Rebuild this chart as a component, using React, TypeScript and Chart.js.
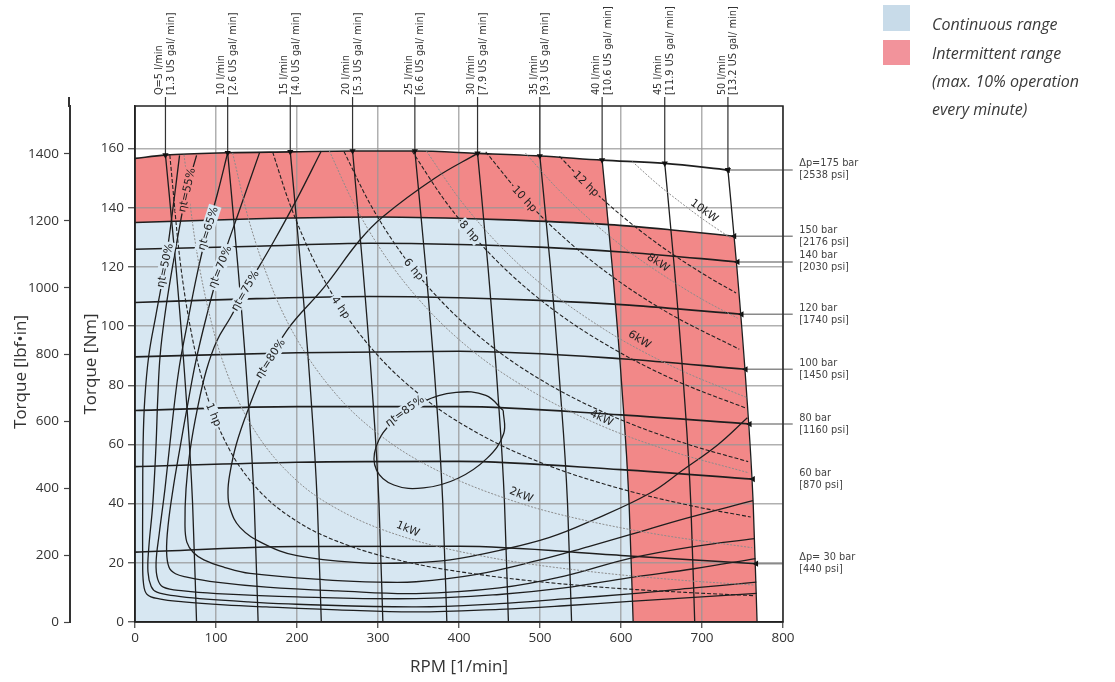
import React, { useEffect, useRef } from 'react';
import { Chart, registerables } from 'chart.js';

Chart.register(...registerables);

type P = [number, number];

// ---------- axes ----------
const RPM_TICKS = [0, 100, 200, 300, 400, 500, 600, 700, 800];
const NM_TICKS = [0, 20, 40, 60, 80, 100, 120, 140, 160];
const LBF_TICKS = [0, 200, 400, 600, 800, 1000, 1200, 1400];
const RPM_MAX = 800;
const NM_MAX = 174.4;
const LBF_PER_NM = 8.8507;

// ---------- flow lines (RPM, Nm) ----------
const Q05: P[] = [[37.6, 157.8], [50.6, 120], [62.2, 80], [71.1, 40], [76, 0]];
const Q10: P[] = [[114.4, 158.6], [127.1, 120], [138.5, 80], [147.2, 40], [152, 0]];
const Q15: P[] = [[191.7, 158.9], [204.6, 120], [216.2, 80], [225.1, 40], [230, 0]];
const Q20: P[] = [[268.6, 159.2], [281.2, 120], [292.5, 80], [301.2, 40], [306, 0]];
const Q25: P[] = [[345.5, 159.2], [358.9, 120], [370.8, 80], [380, 40], [385, 0]];
const Q30: P[] = [[422.9, 158.4], [435.8, 120], [447.3, 80], [456.2, 40], [461, 0]];
const Q35: P[] = [[499.8, 157.5], [512.9, 120], [524.6, 80], [534, 40], [539, 0]];
const Q40: P[] = [[576.7, 156.1], [589.2, 120], [600.9, 80], [610, 40], [615, 0]];
const Q45: P[] = [[654, 155], [665.8, 120], [677.3, 80], [686.2, 40], [691, 0]];
const Q50: P[] = [[732, 152.8], [743, 120], [754.4, 80], [763.2, 40], [768, 0]];
const Q_LINES = [Q05, Q10, Q15, Q20, Q25, Q30, Q35, Q40, Q45, Q50];
const Q_TEXT = ['Q=5 l/min', '10 l/min', '15 l/min', '20 l/min', '25 l/min', '30 l/min', '35 l/min', '40 l/min', '45 l/min', '50 l/min'];
const Q_GAL = ['[1.3 US gal/ min]', '[2.6 US gal/ min]', '[4.0 US gal/ min]', '[5.3 US gal/ min]', '[6.6 US gal/ min]', '[7.9 US gal/ min]', '[9.3 US gal/ min]', '[10.6 US gal/ min]', '[11.9 US gal/ min]', '[13.2 US gal/ min]'];

// ---------- pressure lines ----------
const DP175: P[] = [[0, 156.7], [37.6, 157.8], [114.4, 158.6], [191.7, 158.9], [268.6, 159.2], [345.5, 159.2], [422.9, 158.4], [499.8, 157.5], [576.7, 156.1], [654, 155], [732, 152.8]];
const DP150: P[] = [[0, 135], [150, 136.3], [300, 136.9], [450, 136], [585, 134.3], [660, 132.6], [740, 130.4]];
const DP140: P[] = [[0, 126], [150, 127], [290, 128], [400, 127.6], [500, 126.7], [610, 124.9], [744, 121.7]];
const DP120: P[] = [[0, 108], [150, 109.3], [290, 110], [400, 109.6], [500, 108.7], [610, 107.1], [749, 104]];
const DP100: P[] = [[0, 89.6], [200, 91], [400, 91.5], [600, 89], [754, 85.4]];
const DP80: P[] = [[0, 71.5], [200, 72.8], [400, 72.8], [600, 70], [759, 66.9]];
const DP60: P[] = [[0, 52.5], [200, 54], [400, 54.3], [600, 51.5], [763, 48.3]];
const DP30: P[] = [[0, 23.6], [200, 25.5], [400, 25.6], [600, 22.5], [767, 19.7]];
const DP_LINES = [DP175, DP150, DP140, DP120, DP100, DP80, DP60, DP30];
const DP_TEXT = ['Δp=175 bar', '150 bar', '140 bar', '120 bar', '100 bar', '80 bar', '60 bar', 'Δp= 30 bar'];
const DP_PSI = ['[2538 psi]', '[2176 psi]', '[2030 psi]', '[1740 psi]', '[1450 psi]', '[1160 psi]', '[870 psi]', '[440 psi]'];
const DP_LEADER = [true, true, true, true, true, true, false, true];

// ---------- total efficiency contours ----------
const ETA50: P[] = [[55, 157.7], [46, 138], [37, 120.5], [26, 104], [17, 90], [12, 75], [10, 60], [9.5, 40], [9.5, 22], [10.5, 13], [15, 9.3], [30, 7.8], [60, 6.8], [110, 5.8], [162, 5.1], [250, 4.1], [347, 3.4], [450, 4.3], [530, 5.5], [611, 7], [690, 8.3], [767.5, 9.7]];
const ETA55: P[] = [[76, 157.7], [64, 146], [54, 132], [45, 118], [37, 104], [31, 90], [28, 75], [26, 60], [22, 40], [17, 25], [16, 17], [20, 12], [27, 10.1], [50, 8.8], [80, 7.9], [140, 6.8], [200, 6], [347, 5.1], [450, 6.2], [530, 7.8], [611, 9.5], [690, 11.5], [767, 13.5]];
const ETA65: P[] = [[114.4, 158.6], [102, 145], [90, 133], [77, 118], [64, 100], [54, 85], [45, 65], [37, 45], [30, 30], [26, 20], [28, 14.5], [35, 11.8], [60, 10.5], [100.8, 9.6], [200, 8.5], [347, 7.9], [450, 9.3], [530, 11.5], [611, 15], [690, 18], [766, 21.4]];
const ETA70: P[] = [[154, 158.8], [130, 140], [105, 120], [88, 103], [75, 88], [66, 75], [55, 58], [47, 45], [41, 33], [39, 24], [42, 18.5], [50, 16.3], [64, 15.2], [100, 13.5], [162.5, 11.8], [250, 10.5], [347, 9.6], [450, 11.5], [530, 15.5], [611, 21.5], [690, 25.5], [765, 28.2]];
const ETA75: P[] = [[230, 159.2], [200, 143], [170, 128], [138, 113], [118, 103], [101, 95], [88, 85], [77, 72], [68, 58], [63, 45], [61.7, 33], [64, 27], [72, 23.5], [85, 21], [110, 18.5], [142, 16.4], [244, 14.1], [300, 13.5], [347, 13.6], [420, 16], [500, 21], [560, 25.5], [611, 29.5], [680, 35], [763, 41]];
const ETA80: P[] = [[422.9, 158.4], [370, 150], [306, 137], [277.6, 129.1], [233, 113], [187.6, 98.6], [158, 84.1], [139.4, 71.6], [125, 60], [117, 50], [114.8, 44], [117.2, 38.5], [129.6, 32], [158, 26.6], [200, 22.4], [281, 20], [340, 20], [389, 21], [450, 24.2], [512, 28.6], [565, 34.4], [635.5, 43.5], [676, 51.3], [720, 60], [756, 69]];
const ETA85: P[] = [[454.6, 71.5], [455.1, 63.6], [434.5, 55.3], [398.3, 48.5], [356.2, 45.3], [319.6, 46.3], [298.1, 51.4], [297.6, 59.2], [318.2, 67.6], [354.4, 74.3], [396.4, 77.6], [433.1, 76.6], [454.6, 71.5]];
const ETA_LINES = [ETA50, ETA55, ETA65, ETA70, ETA75, ETA80, ETA85];

// ---------- power lines ----------
const HP1: P[] = [[43, 157.8], [55, 123.6], [70, 97.1], [90, 75.6], [115, 59.1], [150, 45.3], [200, 34], [260, 26.2], [340, 20], [440, 15.5], [560, 12.1], [680, 10], [765, 8.9]];
const HP4: P[] = [[170, 158.8], [190, 142.1], [220, 122.7], [254, 106.3], [300, 90], [360, 75], [430, 62.8], [510, 52.9], [600, 45], [690, 39.1], [760, 35.5]];
const HP6: P[] = [[258, 159], [290, 141.4], [330, 124.2], [380, 107.9], [440, 93.2], [510, 80.4], [590, 69.5], [680, 60.3], [757, 54.2]];
const HP8: P[] = [[342, 159.2], [380, 143.4], [413, 132], [460, 118.5], [520, 104.8], [590, 92.4], [670, 81.3], [755, 72.2]];
const HP10: P[] = [[433, 158.9], [481, 143], [530, 129.8], [590, 116.6], [660, 104.2], [746, 92.2]];
const HP12: P[] = [[524, 157.4], [557, 148.1], [600, 137.5], [650, 126.9], [700, 117.9], [742, 111.2]];
const HP_LINES = [HP1, HP4, HP6, HP8, HP10, HP12];

const KW1: P[] = [[60.5, 157.9], [75, 127.3], [95, 100.5], [120, 79.6], [150, 63.7], [200, 47.7], [260, 36.7], [337, 28.3], [440, 21.7], [560, 17.1], [680, 14], [764, 12.5]];
const KW2: P[] = [[120.5, 158.5], [140, 136.4], [170, 112.3], [200, 95.5], [250, 76.4], [310, 61.6], [380, 50.3], [477, 40], [550, 34.7], [650, 29.4], [762, 25.1]];
const KW4: P[] = [[240, 159.2], [270, 141.5], [310, 123.2], [360, 106.1], [420, 90.9], [490, 78], [576, 66.3], [660, 57.9], [758, 50.4]];
const KW6: P[] = [[360, 159.1], [400, 143.2], [450, 127.3], [510, 112.3], [580, 98.8], [623, 92], [680, 84.3], [755, 75.9]];
const KW8: P[] = [[482, 158.5], [520, 146.9], [560, 136.4], [610, 125.2], [646, 118.3], [700, 109.1], [744, 102.7]];
const KW10: P[] = [[614, 155.6], [645, 148], [675, 141.5], [703, 135.8], [737, 129.5]];
const KW_LINES = [KW1, KW2, KW4, KW6, KW8, KW10];

// ---------- colours ----------
const BLUE = '#d7e7f2';
const RED = '#f28888';
const LEG_BLUE = '#c8dbe9';
const LEG_RED = '#f2939b';
const INK = '#1e1e1e';

// label anchors (RPM, Nm, angle)
const CURVE_LABELS = [
  { t: 'ηt=50%', x: 37, y: 120.5, a: -78, bg: BLUE },
  { t: 'ηt=55%', x: 64, y: 146, a: -77, bg: RED },
  { t: 'ηt=65%', x: 90, y: 133, a: -72, bg: BLUE },
  { t: 'ηt=70%', x: 105, y: 120, a: -68, bg: BLUE },
  { t: 'ηt=75%', x: 136, y: 112, a: -60, bg: BLUE },
  { t: 'ηt=80%', x: 167, y: 89, a: -57, bg: BLUE },
  { t: 'ηt=85%', x: 333, y: 71.3, a: -36, bg: BLUE },
  { t: '1 hp', x: 97, y: 70.1, a: 67, bg: BLUE },
  { t: '4 hp', x: 254, y: 106.3, a: 56, bg: BLUE },
  { t: '6 hp', x: 344, y: 119.2, a: 50, bg: BLUE },
  { t: '8 hp', x: 413, y: 132, a: 48, bg: BLUE },
  { t: '10 hp', x: 481, y: 143, a: 47, bg: RED },
  { t: '12 hp', x: 557, y: 148.1, a: 44, bg: RED },
  { t: '1kW', x: 337, y: 31.5, a: 22, bg: null },
  { t: '2kW', x: 477, y: 43, a: 22, bg: null },
  { t: '4kW', x: 576, y: 69, a: 25, bg: null },
  { t: '6kW', x: 623, y: 95.5, a: 32, bg: null },
  { t: '8kW', x: 646, y: 121.5, a: 33, bg: null },
  { t: '10kW', x: 703, y: 139, a: 36, bg: null },
];

const LEADER_TOP_NM = 177.4;
const LEADER_RIGHT_RPM = 812;
const DP_LABEL_RPM = 820;

const xy = (pts: P[]) => pts.map(([x, y]) => ({ x, y }));
const last = (pts: P[]) => pts[pts.length - 1];

function buildDatasets() {
  const ds: any[] = [];
  const splitX = DP150[4][0];
  const splitY = DP150[4][1];
  const redPts: P[] = [
    ...DP175.filter((p) => p[0] <= Q40[0][0]),
    ...DP150.filter((p) => p[0] >= splitX),
    ...Q50.filter((p) => p[1] < last(DP150)[1]),
  ];
  const bluePts: P[] = [...DP150.filter((p) => p[0] <= splitX), ...Q40.filter((p) => p[1] < splitY)];
  const fillBase = { borderColor: 'rgba(0,0,0,0)', borderWidth: 0, pointRadius: 0, tension: 0, fill: 'origin' };
  ds.push({ ...fillBase, data: xy(redPts), backgroundColor: RED, order: 10 });
  ds.push({ ...fillBase, data: xy(bluePts), backgroundColor: BLUE, order: 9 });

  const line = (pts: P[], o: any) => ({
    data: xy(pts), borderColor: INK, borderWidth: 1.2, pointRadius: 0, fill: false, tension: 0.35, order: 1, ...o,
  });

  KW_LINES.forEach((p) => ds.push(line(p, { borderColor: '#8c8c8c', borderWidth: 1, borderDash: [2, 1.5], cubicInterpolationMode: 'monotone' })));
  HP_LINES.forEach((p) => ds.push(line(p, { borderColor: '#222', borderWidth: 1.1, borderDash: [4, 2], cubicInterpolationMode: 'monotone' })));
  ETA_LINES.forEach((p) => ds.push(line(p, { borderWidth: 1.3, tension: 0.4 })));
  Q_LINES.forEach((p) => {
    ds.push(line(p, { borderWidth: 1.3, cubicInterpolationMode: 'monotone' }));
    ds.push({
      data: xy([[p[0][0], LEADER_TOP_NM], p[0]]), borderColor: '#333', borderWidth: 1.2, fill: false, tension: 0, clip: false, order: 0,
      pointStyle: 'triangle', pointRotation: 180, pointBackgroundColor: '#111', pointBorderWidth: 0,
      pointRadius: (c: any) => (c.dataIndex === 1 ? 3.6 : 0),
    });
  });
  DP_LINES.forEach((p, i) => {
    ds.push(line(p, {
      borderWidth: 1.6, cubicInterpolationMode: 'monotone',
      pointStyle: 'triangle', pointRotation: 270, pointBackgroundColor: '#111', pointBorderWidth: 0,
      pointRadius: (c: any) => (c.dataIndex === p.length - 1 ? 3.6 : 0), clip: false,
    }));
    if (DP_LEADER[i]) {
      const e = last(p);
      const endX = i === DP_LINES.length - 1 ? RPM_MAX : LEADER_RIGHT_RPM;
      ds.push({ data: xy([e, [endX, e[1]]]), borderColor: '#8a8a8a', borderWidth: 1.5, pointRadius: 0, fill: false, tension: 0, clip: false, order: 2 });
    }
  });
  return ds;
}

const annotPlugin = {
  id: 'annot',
  afterDatasetsDraw(chart: any) {
    const { ctx, chartArea: ca, scales } = chart;
    const x = scales.x;
    const y = scales.y;
    ctx.save();
    ctx.strokeStyle = '#222';
    ctx.lineWidth = 1.5;
    ctx.strokeRect(ca.left, ca.top, ca.right - ca.left, ca.bottom - ca.top);

    // curve labels
    ctx.font = '11px "DejaVu Sans", sans-serif';
    ctx.textAlign = 'center';
    ctx.textBaseline = 'middle';
    for (const L of CURVE_LABELS) {
      const px = x.getPixelForValue(L.x);
      const py = y.getPixelForValue(L.y);
      ctx.save();
      ctx.translate(px, py);
      ctx.rotate((L.a * Math.PI) / 180);
      const w = ctx.measureText(L.t).width;
      if (L.bg) {
        ctx.fillStyle = L.bg;
        ctx.fillRect(-w / 2 - 1.5, -6.5, w + 3, 13);
      }
      ctx.fillStyle = '#222';
      ctx.fillText(L.t, 0, 0.5);
      ctx.restore();
    }

    // flow labels on top
    ctx.font = '9.8px "DejaVu Sans", sans-serif';
    ctx.fillStyle = '#333';
    ctx.textAlign = 'left';
    Q_LINES.forEach((p, i) => {
      const px = x.getPixelForValue(p[0][0]);
      const py = y.getPixelForValue(LEADER_TOP_NM);
      ctx.save();
      ctx.translate(px, py);
      ctx.rotate(-Math.PI / 2);
      ctx.fillText(Q_TEXT[i], 2, -5.8);
      ctx.fillText(Q_GAL[i], 2, 6);
      ctx.restore();
    });

    // pressure labels right
    ctx.fillStyle = '#444';
    DP_LINES.forEach((p, i) => {
      const px = x.getPixelForValue(DP_LABEL_RPM);
      const py = y.getPixelForValue(last(p)[1]);
      ctx.fillText(DP_TEXT[i], px, py - 6);
      ctx.fillText(DP_PSI[i], px, py + 6);
    });
    ctx.restore();
  },
  afterDraw(chart: any) {
    const { ctx, chartArea: ca, scales } = chart;
    ctx.save();
    // extend lbf axis line up like the original
    const yl = scales.yl;
    ctx.strokeStyle = '#333';
    ctx.lineWidth = 2;
    ctx.beginPath();
    ctx.moveTo(yl.right - 1, scales.y.getPixelForValue(LEADER_TOP_NM));
    ctx.lineTo(yl.right - 1, ca.top + 1);
    ctx.stroke();
    // axis titles
    ctx.fillStyle = '#333';
    ctx.font = '17px "Open Sans", sans-serif';
    ctx.textAlign = 'center';
    ctx.textBaseline = 'middle';
    ctx.fillText('RPM [1/min]', (ca.left + ca.right) / 2, 667);
    const cy = (ca.top + ca.bottom) / 2;
    [['Torque [lbf•in]', 21, cy + 8], ['Torque [Nm]', 91, cy]].forEach(([t, px, py]) => {
      ctx.save();
      ctx.translate(px as number, py as number);
      ctx.rotate(-Math.PI / 2);
      ctx.fillText(t as string, 0, 0);
      ctx.restore();
    });
    // legend
    ctx.fillStyle = LEG_BLUE;
    ctx.fillRect(883, 5, 27, 26);
    ctx.fillStyle = LEG_RED;
    ctx.fillRect(883, 40, 27, 25);
    ctx.fillStyle = '#3a3a3a';
    ctx.font = 'italic 16px "Open Sans", sans-serif';
    ctx.textAlign = 'left';
    ctx.fillText('Continuous range', 932, 25);
    ctx.fillText('Intermittent range', 932, 54);
    ctx.fillText('(max. 10% operation', 932, 82);
    ctx.fillText('every minute)', 932, 110);
    ctx.restore();
  },
};

export default function App() {
  const ref = useRef<HTMLCanvasElement>(null);
  useEffect(() => {
    const canvas = ref.current;
    if (!canvas) return;
    const tickFont = { family: '"Open Sans", sans-serif', size: 13.5 };
    const gridColor = 'rgba(150,150,150,0.75)';
    const chart = new Chart(canvas, {
      type: 'line',
      data: { datasets: buildDatasets() },
      options: {
        responsive: false,
        animation: false,
        events: [],
        devicePixelRatio: 1,
        layout: { padding: { left: 0, top: 106, right: 332, bottom: 0 } },
        plugins: {
          legend: { display: false },
          tooltip: { enabled: false },
          filler: { drawTime: 'beforeDraw' },
        },
        scales: {
          x: {
            type: 'linear', min: 0, max: RPM_MAX,
            afterBuildTicks: (s: any) => { s.ticks = RPM_TICKS.map((v) => ({ value: v })); },
            afterFit: (s: any) => { s.height = 60; },
            grid: { color: gridColor, lineWidth: 1.5, tickLength: 6, tickColor: '#444', tickWidth: 1.2 },
            border: { color: '#222', width: 1.5 },
            ticks: { font: tickFont, color: '#333', padding: 2, maxRotation: 0, callback: (v: any) => String(v) },
          },
          y: {
            type: 'linear', position: 'left', min: 0, max: NM_MAX, weight: 0,
            afterBuildTicks: (s: any) => { s.ticks = NM_TICKS.map((v) => ({ value: v })); },
            afterFit: (s: any) => { s.width = 65; },
            grid: { color: gridColor, lineWidth: 1.5, tickLength: 7, tickColor: '#444', tickWidth: 1.2 },
            border: { color: '#222', width: 1.5 },
            ticks: { font: tickFont, color: '#333', padding: 4, callback: (v: any) => String(v) },
          },
          yl: {
            type: 'linear', position: 'left', min: 0, max: NM_MAX * LBF_PER_NM, weight: 1,
            afterBuildTicks: (s: any) => { s.ticks = LBF_TICKS.map((v) => ({ value: v })); },
            afterFit: (s: any) => { s.width = 70; },
            grid: { drawOnChartArea: false, tickLength: 6, color: '#444', tickWidth: 1.2 },
            border: { color: '#333', width: 2 },
            ticks: { font: tickFont, color: '#333', padding: 5, callback: (v: any) => String(v) },
          },
        },
      } as any,
      plugins: [annotPlugin],
    });
    return () => chart.destroy();
  }, []);
  return (
    <div style={{ position: 'fixed', left: 0, top: 0, width: 1115, height: 682, background: '#fff' }}>
      <canvas ref={ref} width={1115} height={682} style={{ display: 'block', width: 1115, height: 682 }} />
    </div>
  );
}
